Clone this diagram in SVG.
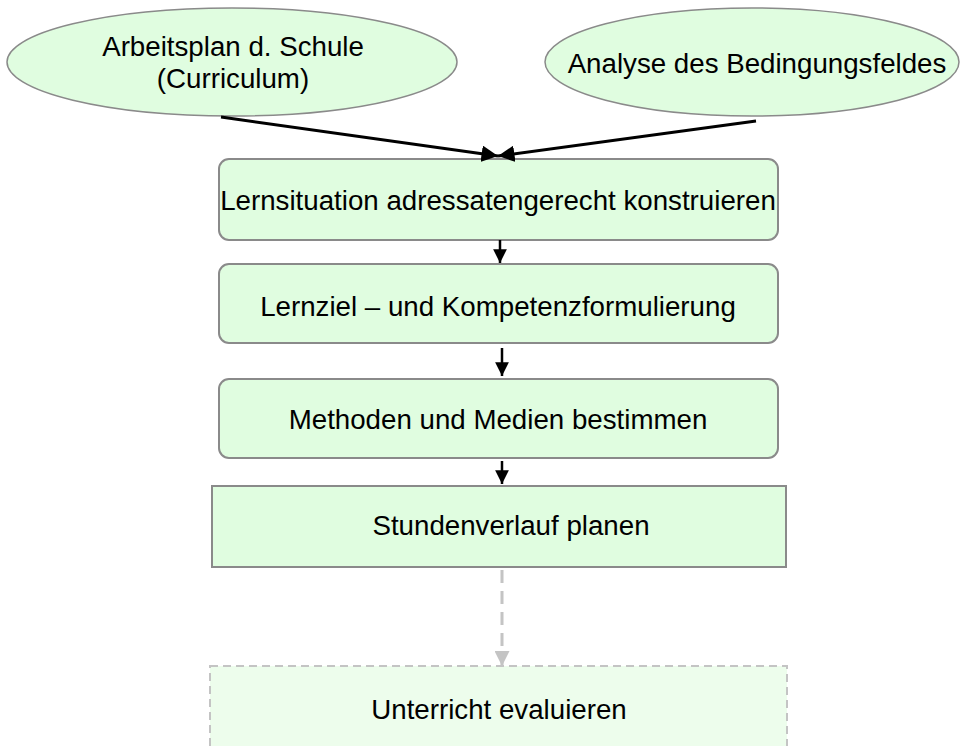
<svg xmlns="http://www.w3.org/2000/svg" width="960" height="746" viewBox="0 0 960 746">
<defs>
<style>
.node{fill:#e0fde0;stroke:#8a8a8a;stroke-width:2}
.dash{fill:#edfdec;stroke:#c4c4c4;stroke-width:2;stroke-dasharray:8 5}
.t{font-family:"Liberation Sans",Arial,sans-serif;font-size:27.7px;fill:#000;text-anchor:middle}
.c{stroke:#000;stroke-width:3;fill:none}
.g{stroke:#c4c4c4;stroke-width:3;fill:none;stroke-dasharray:13 8}
</style>
<marker id="ah" viewBox="0 0 10 10" refX="10" refY="5" markerWidth="5.5" markerHeight="5.5" markerUnits="strokeWidth" orient="auto"><path d="M0,0 L10,5 L0,10 z" fill="#000"/></marker>
<marker id="ahg" viewBox="0 0 10 10" refX="10" refY="5" markerWidth="5" markerHeight="5" markerUnits="strokeWidth" orient="auto"><path d="M0,0 L10,5 L0,10 z" fill="#c4c4c4"/></marker>
</defs>
<rect width="960" height="746" fill="#fff"/>
<g id="n1"><ellipse class="node" cx="232" cy="62" rx="225" ry="54" style="stroke-width:1.5"/><text class="t" x="233" y="56">Arbeitsplan d. Schule</text><text class="t" x="233" y="88">(Curriculum)</text></g>
<g id="n2"><ellipse class="node" cx="752" cy="62" rx="207" ry="54" style="stroke-width:1.5"/><text class="t" x="757" y="73">Analyse des Bedingungsfeldes</text></g>
<g id="n3"><rect class="node" x="219" y="159" width="559" height="81" rx="10"/><text class="t" x="498" y="210">Lernsituation adressatengerecht konstruieren</text></g>
<g id="n4"><rect class="node" x="219" y="264" width="559" height="79" rx="10"/><text class="t" x="498" y="316">Lernziel – und Kompetenzformulierung</text></g>
<g id="n5"><rect class="node" x="219" y="379" width="559" height="79" rx="10"/><text class="t" x="498" y="429">Methoden und Medien bestimmen</text></g>
<g id="n6"><rect class="node" x="212" y="486" width="574" height="81"/><text class="t" x="511" y="535">Stundenverlauf planen</text></g>
<g id="n7"><rect class="dash" x="210" y="666" width="577" height="100"/><text class="t" x="499" y="719">Unterricht evaluieren</text></g>
<g id="connectors">
<line class="c" x1="221" y1="117" x2="498" y2="156" marker-end="url(#ah)"/>
<line class="c" x1="756" y1="121" x2="498" y2="156" marker-end="url(#ah)"/>
<line class="c" x1="500" y1="240" x2="500" y2="263" style="stroke-width:2.5" marker-end="url(#ah)"/>
<line class="c" x1="502" y1="348" x2="502" y2="376" style="stroke-width:2.5" marker-end="url(#ah)"/>
<line class="c" x1="502" y1="461" x2="502" y2="484" style="stroke-width:2.5" marker-end="url(#ah)"/>
<line class="g" x1="502" y1="570" x2="502" y2="666" marker-end="url(#ahg)"/>
</g>
</svg>
